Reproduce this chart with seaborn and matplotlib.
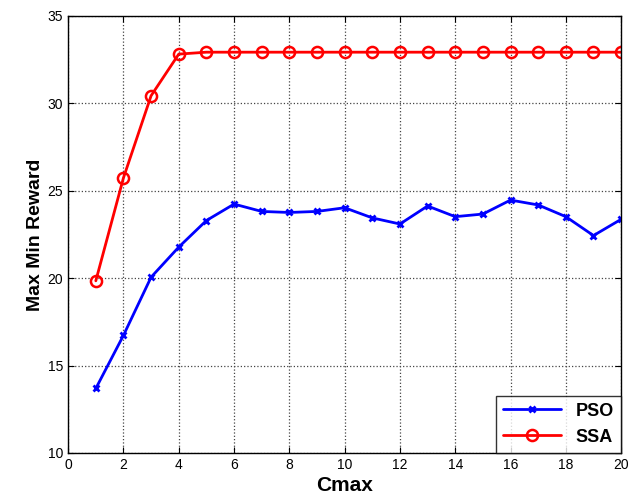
import matplotlib

matplotlib.use("Agg")

import matplotlib.pyplot as plt
import pandas as pd
import seaborn as sns

cmax = list(range(1, 21))
pso = [13.69, 16.73, 20.06, 21.78, 23.30, 24.24, 23.82, 23.76, 23.82, 24.03,
       23.45, 23.10, 24.13, 23.52, 23.67, 24.47, 24.19, 23.52, 22.44, 23.37]
ssa = [19.85, 25.74, 30.44, 32.82, 32.93, 32.93, 32.93, 32.93, 32.93, 32.93,
       32.93, 32.93, 32.93, 32.93, 32.93, 32.93, 32.93, 32.93, 32.93, 32.93]
x_ticks = list(range(0, 21, 2))
y_ticks = [10, 15, 20, 25, 30, 35]

df = pd.DataFrame({"Cmax": cmax, "PSO": pso, "SSA": ssa})

sns.set_style("ticks")
plt.rcParams["font.family"] = ["Liberation Sans", "DejaVu Sans"]
plt.rcParams["text.color"] = "black"
plt.rcParams["axes.labelcolor"] = "black"
plt.rcParams["xtick.color"] = "black"
plt.rcParams["ytick.color"] = "black"

fig = plt.figure(figsize=(6.43, 5.0), dpi=100)
ax = fig.add_axes([0.106, 0.094, 0.860, 0.874])

sns.lineplot(data=df, x="Cmax", y="PSO", ax=ax, color="#0000ff", linewidth=2,
             marker="x", markersize=5, markeredgecolor="#0000ff",
             markeredgewidth=2, label="PSO")
sns.lineplot(data=df, x="Cmax", y="SSA", ax=ax, color="#ff0000", linewidth=2,
             marker="o", markersize=8, markerfacecolor="none",
             markeredgecolor="#ff0000", markeredgewidth=1.8, label="SSA")

ax.set_xlim(0, 20)
ax.set_ylim(10, 35)
ax.set_xticks(x_ticks)
ax.set_yticks(y_ticks)
ax.grid(True, linestyle=":", color="#444444", linewidth=0.9)
ax.tick_params(direction="in", top=True, right=True, length=4, labelsize=10, width=0.8)
for s in ax.spines.values():
    s.set_linewidth(1.0)
    s.set_color("black")

ax.set_xlabel("Cmax", fontsize=15, fontweight="bold", labelpad=3)
ax.set_ylabel("Max Min Reward", fontsize=14, fontweight="bold", labelpad=3)

leg = ax.legend(loc="lower right", fontsize=13, frameon=True, fancybox=False,
                borderaxespad=0, handlelength=3.2, borderpad=0.4, labelspacing=0.5)
leg.get_frame().set_edgecolor("black")
leg.get_frame().set_linewidth(1.0)
for t in leg.get_texts():
    t.set_fontweight("bold")

fig.savefig("out.png", dpi=100)
